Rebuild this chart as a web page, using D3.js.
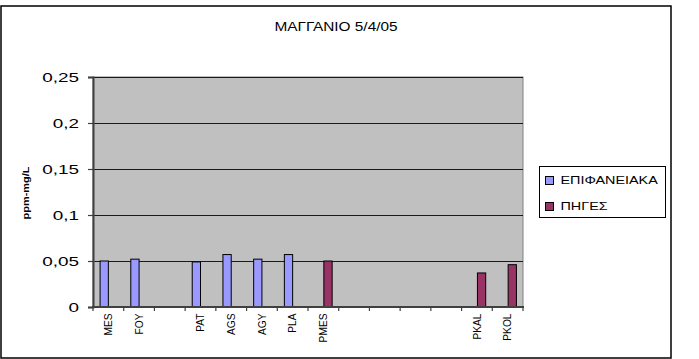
<!DOCTYPE html>
<html>
<head>
<meta charset="utf-8">
<script src="https://cdn.jsdelivr.net/npm/d3@7"></script>
<style>
  html, body { margin: 0; padding: 0; background: #fff; }
  svg { display: block; font-family: "Liberation Sans", Arial, sans-serif; }
</style>
</head>
<body>
<svg id="chart" width="699" height="359"></svg>
<script>
// Sampling stations (blank slots keep the gaps between groups)
const categories = ["MES", "FOY", "", "PAT", "AGS", "AGY", "PLA", "PMES", "", "", "", "", "PKAL", "PKOL"];
const seriesNames = ["ΕΠΙΦΑΝΕΙΑΚΑ", "ΠΗΓΕΣ"];
const seriesColors = ["#9999FF", "#993366"];
// Manganese, ppm-mg/L
const surfaceValues = [0.050, 0.052, null, 0.049, 0.057, 0.052, 0.057, null, null, null, null, null, null, null];
const springValues  = [null, null, null, null, null, null, null, 0.050, null, null, null, null, 0.037, 0.046];
const yTickValues = [0, 0.05, 0.1, 0.15, 0.2, 0.25];
const chartTitle = "ΜΑΓΓΑΝΙΟ 5/4/05";
const yTitle = "ppm-mg/L";

const svg = d3.select("#chart");
const plot = { left: 93, right: 523, top: 77, bottom: 307 };

// Outer chart frame
svg.append("rect")
  .attr("x", 1).attr("y", 6).attr("width", 670).attr("height", 352)
  .attr("fill", "#fff").attr("stroke", "#000").attr("stroke-width", 1.5);

// Title
svg.append("text")
  .attr("transform", "translate(336,30.5) scale(1.23,1)")
  .attr("text-anchor", "middle")
  .attr("font-size", 12.5)
  .attr("fill", "#000")
  .text(chartTitle);

const idx = d3.range(categories.length);
const x0 = d3.scaleBand().domain(idx).range([plot.left, plot.right]).padding(0);
const x1 = d3.scaleBand().domain(d3.range(seriesNames.length))
  .range([0, x0.bandwidth()]).paddingInner(0).paddingOuter(0.75);
const y = d3.scaleLinear().domain([0, 0.25]).range([plot.bottom, plot.top]);

// Plot area
svg.append("rect")
  .attr("x", plot.left).attr("y", plot.top)
  .attr("width", plot.right - plot.left).attr("height", plot.bottom - plot.top)
  .attr("fill", "#C0C0C0").attr("stroke", "#808080").attr("stroke-width", 1);

// Gridlines
svg.append("g").selectAll("line")
  .data(yTickValues.filter(v => v > 0))
  .join("line")
  .attr("x1", plot.left).attr("x2", plot.right)
  .attr("y1", d => Math.round(y(d)) + 0.5).attr("y2", d => Math.round(y(d)) + 0.5)
  .attr("stroke", "#1a1a1a").attr("stroke-width", 1);

// Bars
const series = [surfaceValues, springValues];
series.forEach((vals, s) => {
  svg.append("g").selectAll("rect")
    .data(idx.filter(i => vals[i] != null))
    .join("rect")
    .attr("x", i => x0(i) + x1(s) + 0.5)
    .attr("y", i => y(vals[i]))
    .attr("width", x1.bandwidth() - 0.5)
    .attr("height", i => y(0) - y(vals[i]))
    .attr("fill", seriesColors[s])
    .attr("stroke", "#000").attr("stroke-width", 1);
});

// Y axis
const fmt = v => String(v).replace(".", ",");
const yAxis = svg.append("g").attr("transform", `translate(${plot.left},0)`)
  .call(d3.axisLeft(y).tickValues(yTickValues).tickSize(5).tickFormat(""));
yAxis.select(".domain").attr("stroke", "#404040").attr("stroke-width", 2);
yAxis.selectAll(".tick line").attr("stroke", "#404040").attr("stroke-width", 1.2);
svg.append("g").selectAll("text")
  .data(yTickValues)
  .join("text")
  .attr("transform", d => `translate(79,${y(d)}) scale(1.4,1)`)
  .attr("text-anchor", "end")
  .attr("dy", "0.35em")
  .attr("font-size", 13.5)
  .attr("fill", "#000")
  .text(fmt);

// X axis: ticks on category boundaries
const boundaries = idx.map(i => x0(i)).concat([x0(idx[idx.length - 1]) + x0.bandwidth()]);
const xAxisG = svg.append("g");
xAxisG.append("line")
  .attr("x1", plot.left - 1).attr("x2", plot.right + 1)
  .attr("y1", plot.bottom).attr("y2", plot.bottom)
  .attr("stroke", "#404040").attr("stroke-width", 2);
xAxisG.selectAll("line.tk")
  .data(boundaries)
  .join("line").attr("class", "tk")
  .attr("x1", d => d).attr("x2", d => d)
  .attr("y1", plot.bottom).attr("y2", plot.bottom + 4)
  .attr("stroke", "#404040").attr("stroke-width", 1.2);
xAxisG.selectAll("text")
  .data(idx.filter(i => categories[i] !== ""))
  .join("text")
  .attr("transform", i => `translate(${x0(i) + x0.bandwidth() / 2},313.5) rotate(-90)`)
  .attr("text-anchor", "end")
  .attr("dy", "0.35em")
  .attr("font-size", 10.2)
  .attr("fill", "#000")
  .text(i => categories[i]);

// Y axis title
svg.append("text")
  .attr("transform", "translate(26,193) rotate(-90) scale(1.22,1)")
  .attr("text-anchor", "middle")
  .attr("dy", "0.35em")
  .attr("font-size", 9)
  .attr("font-weight", "bold")
  .attr("fill", "#000")
  .text(yTitle);

// Legend
const legend = svg.append("g");
legend.append("rect")
  .attr("x", 539.5).attr("y", 166.5).attr("width", 126).attr("height", 51)
  .attr("fill", "#fff").attr("stroke", "#000").attr("stroke-width", 1);
const items = legend.selectAll("g.item")
  .data(seriesNames)
  .join("g").attr("class", "item")
  .attr("transform", (d, i) => `translate(545,${176 + i * 26})`);
items.append("rect")
  .attr("x", 0.5).attr("y", 0.5).attr("width", 8).attr("height", 8)
  .attr("fill", (d, i) => seriesColors[i])
  .attr("stroke", "#000").attr("stroke-width", 1);
items.append("text")
  .attr("transform", "translate(15.5,8.2) scale(1.24,1)")
  .attr("font-size", 11.6)
  .attr("fill", "#000")
  .text(d => d);
</script>
</body>
</html>
